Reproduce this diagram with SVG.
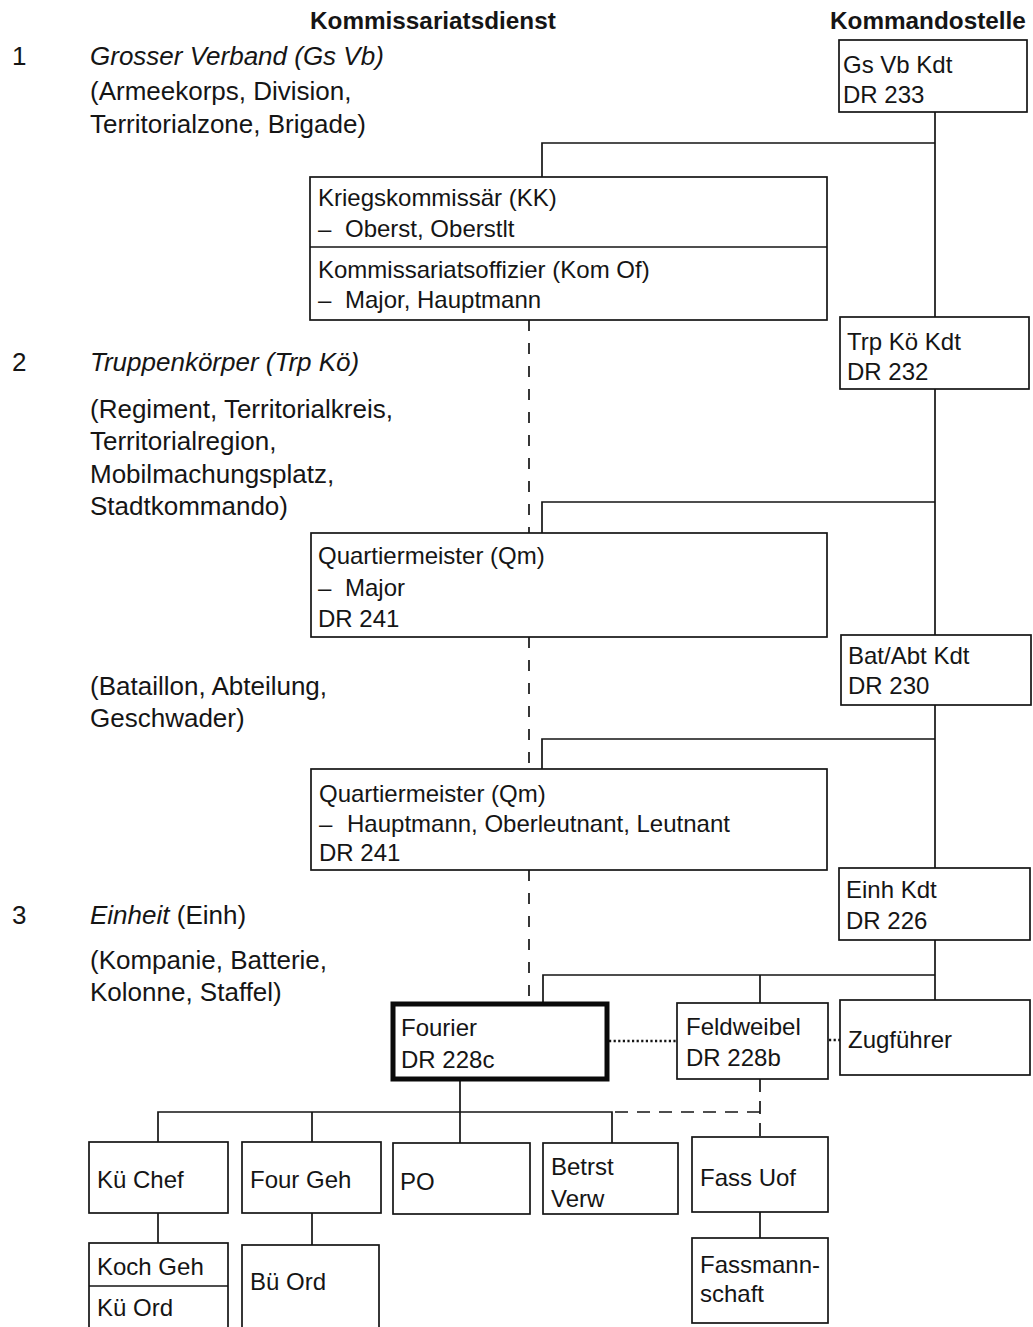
<svg xmlns="http://www.w3.org/2000/svg" width="1033" height="1327" viewBox="0 0 1033 1327">
<style>
.bg{fill:#fff}
.box{fill:#fff;stroke:#151515;stroke-width:1.7}
.thick{fill:#fff;stroke:#0a0a0a;stroke-width:5}
.t{font-family:"Liberation Sans",Arial,sans-serif;font-size:24px;fill:#151515}
.lt{font-size:26px}
.h{font-weight:bold;font-size:24.3px}
.i{font-style:italic}
.ln{stroke:#151515;stroke-width:1.7;fill:none}
.dsh{stroke-dasharray:11 12}
.dsh2{stroke-dasharray:13 9}
.dot{stroke-width:2.6;stroke-dasharray:2.2 2.4}
</style>
<rect class="bg" x="0" y="0" width="1033" height="1327"/>

<g id="headers">
<text class="t h" x="310" y="29">Kommissariatsdienst</text>
<text class="t h" x="830" y="29">Kommandostelle</text>
</g>

<g id="levels">
<text class="t lt" x="12" y="65">1</text>
<text class="t lt i" x="90" y="65">Grosser Verband (Gs Vb)</text>
<text class="t lt" x="90" y="100">(Armeekorps, Division,</text>
<text class="t lt" x="90" y="133">Territorialzone, Brigade)</text>

<text class="t lt" x="12" y="371">2</text>
<text class="t lt i" x="90" y="371">Truppenkörper (Trp Kö)</text>
<text class="t lt" x="90" y="418">(Regiment, Territorialkreis,</text>
<text class="t lt" x="90" y="450">Territorialregion,</text>
<text class="t lt" x="90" y="483">Mobilmachungsplatz,</text>
<text class="t lt" x="90" y="515">Stadtkommando)</text>

<text class="t lt" x="90" y="695">(Bataillon, Abteilung,</text>
<text class="t lt" x="90" y="727">Geschwader)</text>

<text class="t lt" x="12" y="924">3</text>
<text class="t lt" x="90" y="924"><tspan class="i">Einheit</tspan> (Einh)</text>
<text class="t lt" x="90" y="969">(Kompanie, Batterie,</text>
<text class="t lt" x="90" y="1001">Kolonne, Staffel)</text>
</g>

<g id="connectors">
<path class="ln" d="M935 112 V317 M935 389 V635 M935 705 V868 M935 940 V1000"/>
<path class="ln" d="M542 177 V143 H935"/>
<path class="ln" d="M542 533 V502 H935"/>
<path class="ln" d="M542 769 V739 H935"/>
<path class="ln" d="M543 1003 V975 H935 M760 975 V1003"/>
<path class="ln dsh" d="M529 320 V533 M529 637 V769 M529 870 V1003"/>
<path class="ln dot" d="M609 1041 H677 M829 1040 H840"/>
<path class="ln" d="M460 1080 V1112 M158 1142 V1112 H612 V1143 M312 1112 V1142 M460 1112 V1143"/>
<path class="ln dsh2" d="M760 1079 V1137 M760 1112 H612"/>
<path class="ln" d="M158 1213 V1243 M312 1213 V1245 M760 1212 V1238"/>
</g>

<g id="gsvb_kdt">
<rect class="box" x="839" y="40" width="188" height="72"/>
<text class="t" x="843" y="73">Gs Vb Kdt</text>
<text class="t" x="843" y="103">DR 233</text>
</g>

<g id="kk">
<rect class="box" x="310" y="177" width="517" height="143"/>
<line class="ln" x1="310" y1="247" x2="827" y2="247"/>
<text class="t" x="318" y="206">Kriegskommissär (KK)</text>
<text class="t" x="318" y="237">–</text><text class="t" x="345" y="237">Oberst, Oberstlt</text>
<text class="t" x="318" y="278">Kommissariatsoffizier (Kom Of)</text>
<text class="t" x="318" y="308">–</text><text class="t" x="345" y="308">Major, Hauptmann</text>
</g>

<g id="trpko_kdt">
<rect class="box" x="840" y="317" width="189" height="72"/>
<text class="t" x="847" y="350">Trp Kö Kdt</text>
<text class="t" x="847" y="380">DR 232</text>
</g>

<g id="qm1">
<rect class="box" x="311" y="533" width="516" height="104"/>
<text class="t" x="318" y="564">Quartiermeister (Qm)</text>
<text class="t" x="318" y="596">–</text><text class="t" x="345" y="596">Major</text>
<text class="t" x="318" y="627">DR 241</text>
</g>

<g id="batabt_kdt">
<rect class="box" x="841" y="635" width="190" height="70"/>
<text class="t" x="848" y="664">Bat/Abt Kdt</text>
<text class="t" x="848" y="694">DR 230</text>
</g>

<g id="qm2">
<rect class="box" x="311" y="769" width="516" height="101"/>
<text class="t" x="319" y="802">Quartiermeister (Qm)</text>
<text class="t" x="319" y="832">–</text><text class="t" x="347" y="832">Hauptmann, Oberleutnant, Leutnant</text>
<text class="t" x="319" y="861">DR 241</text>
</g>

<g id="einh_kdt">
<rect class="box" x="839" y="868" width="191" height="72"/>
<text class="t" x="846" y="898">Einh Kdt</text>
<text class="t" x="846" y="929">DR 226</text>
</g>

<g id="fourier">
<rect class="thick" x="393" y="1004" width="214" height="75"/>
<text class="t" x="401" y="1036">Fourier</text>
<text class="t" x="401" y="1068">DR 228c</text>
</g>

<g id="feldweibel">
<rect class="box" x="677" y="1003" width="151" height="76"/>
<text class="t" x="686" y="1035">Feldweibel</text>
<text class="t" x="686" y="1066">DR 228b</text>
</g>

<g id="zugfuehrer">
<rect class="box" x="840" y="1000" width="190" height="75"/>
<text class="t" x="848" y="1048">Zugführer</text>
</g>

<g id="kuechef">
<rect class="box" x="89" y="1142" width="139" height="71"/>
<text class="t" x="97" y="1188">Kü Chef</text>
</g>

<g id="fourgeh">
<rect class="box" x="242" y="1142" width="139" height="71"/>
<text class="t" x="250" y="1188">Four Geh</text>
</g>

<g id="po">
<rect class="box" x="393" y="1143" width="137" height="71"/>
<text class="t" x="400" y="1190">PO</text>
</g>

<g id="betrst">
<rect class="box" x="543" y="1143" width="135" height="71"/>
<text class="t" x="551" y="1175">Betrst</text>
<text class="t" x="551" y="1207">Verw</text>
</g>

<g id="fassuof">
<rect class="box" x="692" y="1137" width="136" height="75"/>
<text class="t" x="700" y="1186">Fass Uof</text>
</g>

<g id="kochgeh">
<rect class="box" x="89" y="1243" width="139" height="92"/>
<line class="ln" x1="89" y1="1286" x2="228" y2="1286"/>
<text class="t" x="97" y="1275">Koch Geh</text>
<text class="t" x="97" y="1316">Kü Ord</text>
</g>

<g id="buord">
<rect class="box" x="242" y="1245" width="137" height="90"/>
<text class="t" x="250" y="1290">Bü Ord</text>
</g>

<g id="fassmannschaft">
<rect class="box" x="692" y="1238" width="136" height="85"/>
<text class="t" x="700" y="1273">Fassmann-</text>
<text class="t" x="700" y="1302">schaft</text>
</g>
</svg>
